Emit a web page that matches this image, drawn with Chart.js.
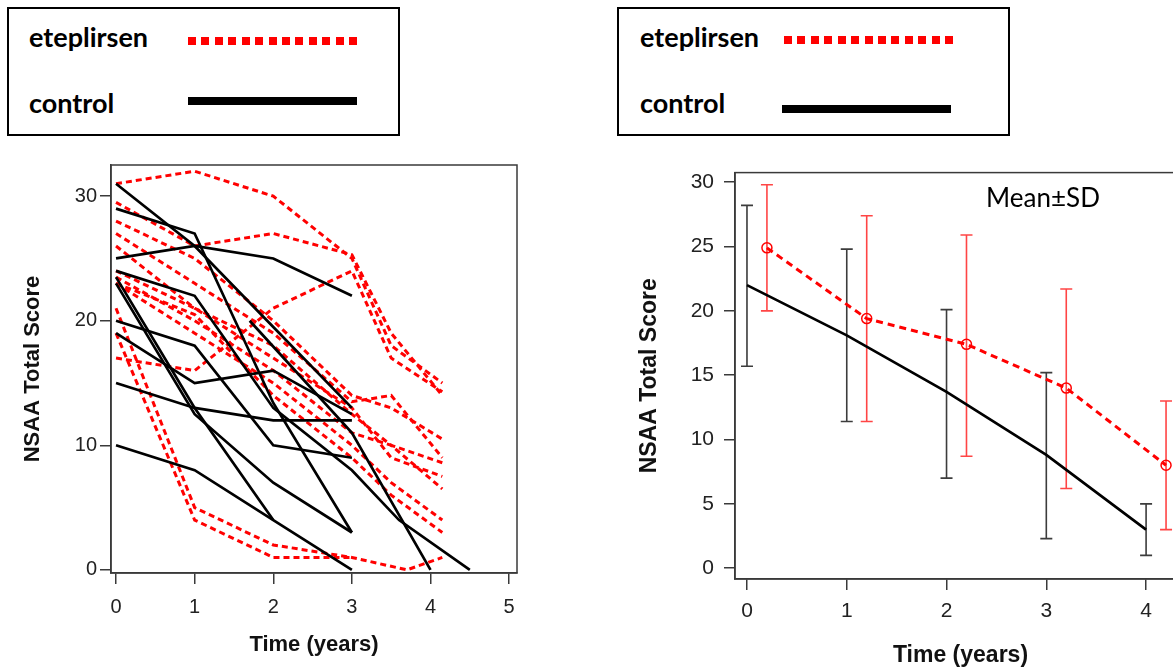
<!DOCTYPE html>
<html>
<head>
<meta charset="utf-8">
<script src="https://cdn.jsdelivr.net/npm/chart.js@4.4.1/dist/chart.umd.min.js"></script>
<style>
  html, body { margin: 0; padding: 0; background: #fff; }
  body { width: 1173px; height: 671px; overflow: hidden; position: relative; }
  canvas { position: absolute; }
  .legend-box { position: absolute; top: 7px; width: 389px; height: 125px; border: 2px solid #000; box-sizing: content-box; }
  .legend-txt { position: absolute; font-family: 'Lato', sans-serif; font-weight: bold; font-size: 27px; line-height: 27px; color: #000; white-space: nowrap; }
  .dots { position: absolute; height: 8px; background: repeating-linear-gradient(to right, #ff0000 0 8px, transparent 8px 13.42px); }
  .solid { position: absolute; height: 8px; background: #000; }
  #meanSd { position: absolute; left: 943px; top: 184px; width: 200px; text-align: center; font-family: 'Lato', sans-serif; font-size: 26px; line-height: 26px; color: #000; }
</style>
</head>
<body>
<!-- legend boxes -->
<div class="legend-box" style="left:7px;"></div>
<div class="legend-txt" style="left:29px; top:23px;">eteplirsen</div>
<div class="dots" style="left:188px; top:37px; width:169px;"></div>
<div class="legend-txt" style="left:29px; top:89px;">control</div>
<div class="solid" style="left:188px; top:97px; width:169px;"></div>

<div class="legend-box" style="left:617px;"></div>
<div class="legend-txt" style="left:640px; top:23px;">eteplirsen</div>
<div class="dots" style="left:784px; top:36px; width:169px;"></div>
<div class="legend-txt" style="left:640px; top:89px;">control</div>
<div class="solid" style="left:782px; top:105px; width:169px;"></div>

<canvas id="spaghetti" width="540" height="521" style="left:0; top:150px; width:540px; height:521px;"></canvas>
<canvas id="meanChart" width="620" height="521" style="left:600px; top:150px; width:620px; height:521px;"></canvas>
<div id="meanSd">Mean±SD</div>

<script>
// ---------- left panel: individual patients ----------
const eteTime = [0, 1, 2, 3, 3.5, 3.7, 4.15];
const ete01 = [31, 32, 30, 25, 18, null, 15];
const ete02 = [29.5, 26, 27, 25.3, 19, null, 14];
const ete03 = [17, 16, 21, 24, 17, null, 14.3];
const ete04 = [28, 25, 20, 14, 13, null, 10.5];
const ete05 = [27, 23, 19, 13.5, 14, null, 9];
const ete06 = [26, 21, 18, 12.5, 10, null, 8.6];
const ete07 = [24, 21, 17, 13, 9, null, 7.5];
const ete08 = [23.5, 20, 16, 11, 10, null, 6.5];
const ete09 = [23, 19, 15, 10, 7, null, 4];
const ete10 = [23, 20.5, 14, 9, 6, null, 3];
const ete11 = [21, 5, 2, 1, null, 0, 1];
const ete12 = [19, 4, 1, 1, null, null, null];
const etePatients = [ete01, ete02, ete03, ete04, ete05, ete06, ete07, ete08, ete09, ete10, ete11, ete12];

const ctlTime = [0, 1, 1.7, 2, 3, 3.6, 4, 4.5];
const ctl01 = [31, 26, null, 19.5, 13, null, null, null];
const ctl02 = [29, 27, null, 13.4, 3, null, null, null];
const ctl03 = [25, 26, null, 25, 22, null, null, null];
const ctl04 = [24, 22, null, 13, 8, 4, null, 0];
const ctl05 = [19, 15, null, 16, 12.5, null, null, null];
const ctl06 = [23.5, 13, null, 4, null, null, null, null];
const ctl07 = [23, 12.5, null, 7, 3, null, null, null];
const ctl08 = [20, 18, null, 10, 9, null, null, null];
const ctl09 = [15, 13, null, 12, 12, null, null, null];
const ctl10 = [10, 8, null, 4, 0, null, null, null];
const ctl11 = [null, null, 20, null, 11, null, 0, null];
const ctlPatients = [ctl01, ctl02, ctl03, ctl04, ctl05, ctl06, ctl07, ctl08, ctl09, ctl10, ctl11];

const leftXTicks = [0, 1, 2, 3, 4, 5];
const leftYTicks = [0, 10, 20, 30];

// ---------- right panel: mean ± SD ----------
const ctlYears = [0, 1, 2, 3, 4];
const ctlMean = [22.0, 18.1, 13.7, 8.8, 3.0];
const ctlSdLow = [15.7, 11.4, 7.0, 2.3, 1.0];
const ctlSdHigh = [28.2, 24.8, 20.1, 15.2, 5.0];

const eteYears = [0.2, 1.2, 2.2, 3.2, 4.2];
const eteMean = [24.9, 19.4, 17.4, 14.0, 8.0];
const eteSdLow = [20.0, 11.4, 8.7, 6.2, 3.0];
const eteSdHigh = [29.8, 27.4, 25.9, 21.7, 13.0];

const rightXTicks = [0, 1, 2, 3, 4];
const rightYTicks = [0, 5, 10, 15, 20, 25, 30];

const RED = '#ff0000';
const AXIS = '#3a3a3a';

function toPoints(times, values) {
    return times.map((t, i) => ({ x: t, y: values[i] }));
}

// box around the plotting region (R style)
const boxPlugin = {
    id: 'box',
    afterDraw(chart) {
        const { ctx, chartArea: a } = chart;
        ctx.save();
        ctx.strokeStyle = AXIS;
        ctx.lineWidth = 1.5;
        ctx.strokeRect(a.left, a.top, a.right - a.left, a.bottom - a.top);
        ctx.restore();
    }
};

function axisOpts(ticks, min, max, fontSize, titleSize, fixed, title, titlePad, tickPad) {
    return {
        type: 'linear',
        min, max,
        afterBuildTicks: s => { s.ticks = ticks.map(v => ({ value: v })); },
        afterFit: fixed,
        grid: { drawOnChartArea: false, drawTicks: true, tickLength: 11, color: AXIS, lineWidth: 1.5 },
        border: { display: true, color: AXIS, width: 1.5 },
        ticks: {
            padding: tickPad,
            color: '#222',
            font: { family: "'Liberation Sans', Arial, sans-serif", size: fontSize },
            callback: v => String(v)
        },
        title: {
            display: true,
            text: title,
            color: '#111',
            padding: titlePad,
            font: { family: "'Liberation Sans', Arial, sans-serif", size: titleSize, weight: 'bold' }
        }
    };
}

const leftDatasets = [];
ctlPatients.forEach(p => leftDatasets.push({
    data: toPoints(ctlTime, p),
    borderColor: '#000',
    borderWidth: 2.7,
    spanGaps: true,
    pointRadius: 0
}));
etePatients.forEach(p => leftDatasets.push({
    data: toPoints(eteTime, p),
    borderColor: RED,
    borderWidth: 3,
    borderDash: [6, 4],
    spanGaps: true,
    pointRadius: 0
}));

new Chart(document.getElementById('spaghetti'), {
    type: 'line',
    data: { datasets: leftDatasets },
    options: {
        responsive: false,
        animation: false,
        layout: { padding: { left: 0, right: 23, top: 9, bottom: 0 } },
        plugins: { legend: { display: false }, tooltip: { enabled: false } },
        elements: { line: { tension: 0 } },
        scales: {
            x: axisOpts(leftXTicks, -0.064, 5.1, 20, 22, s => { s.height = 98; }, 'Time (years)', { top: 0, bottom: 13 }, 11),
            y: axisOpts(leftYTicks, -0.25, 32.5, 20, 22, s => { s.width = 111; }, 'NSAA Total Score', { top: 20, bottom: 0 }, 3)
        }
    },
    plugins: [boxPlugin]
});

// error bars, drawn through the chart scales
const errorBarPlugin = {
    id: 'errorBars',
    beforeDatasetsDraw(chart) {
        const { ctx, scales: { x, y } } = chart;
        const groups = [
            { years: ctlYears, lo: ctlSdLow, hi: ctlSdHigh, color: '#3c3c3c' },
            { years: eteYears, lo: eteSdLow, hi: eteSdHigh, color: '#ff4545' }
        ];
        ctx.save();
        ctx.lineWidth = 1.6;
        groups.forEach(g => {
            ctx.strokeStyle = g.color;
            g.years.forEach((t, i) => {
                const px = x.getPixelForValue(t);
                const top = y.getPixelForValue(g.hi[i]);
                const bot = y.getPixelForValue(g.lo[i]);
                ctx.beginPath();
                ctx.moveTo(px, top); ctx.lineTo(px, bot);
                ctx.moveTo(px - 6, top); ctx.lineTo(px + 6, top);
                ctx.moveTo(px - 6, bot); ctx.lineTo(px + 6, bot);
                ctx.stroke();
            });
        });
        ctx.restore();
    }
};

new Chart(document.getElementById('meanChart'), {
    type: 'line',
    data: {
        datasets: [
            {
                label: 'eteplirsen',
                data: toPoints(eteYears, eteMean),
                borderColor: RED,
                borderWidth: 3,
                borderDash: [7, 5],
                pointRadius: 5,
                pointBorderWidth: 1.5,
                pointBorderColor: RED,
                pointBackgroundColor: 'rgba(0,0,0,0)'
            },
            {
                label: 'control',
                data: toPoints(ctlYears, ctlMean),
                borderColor: '#000',
                borderWidth: 2.7,
                pointRadius: 0
            }
        ]
    },
    options: {
        responsive: false,
        animation: false,
        layout: { padding: { left: 0, right: 34, top: 13, bottom: 0 } },
        plugins: { legend: { display: false }, tooltip: { enabled: false } },
        elements: { line: { tension: 0 } },
        scales: {
            x: axisOpts(rightXTicks, -0.12, 4.4, 21, 23, s => { s.height = 92; }, 'Time (years)', { top: 0, bottom: 2 }, 9),
            y: axisOpts(rightYTicks, -0.84, 30.75, 21, 23, s => { s.width = 135; }, 'NSAA Total Score', { top: 36, bottom: 0 }, 10)
        }
    },
    plugins: [errorBarPlugin, boxPlugin]
});
</script>
</body>
</html>
